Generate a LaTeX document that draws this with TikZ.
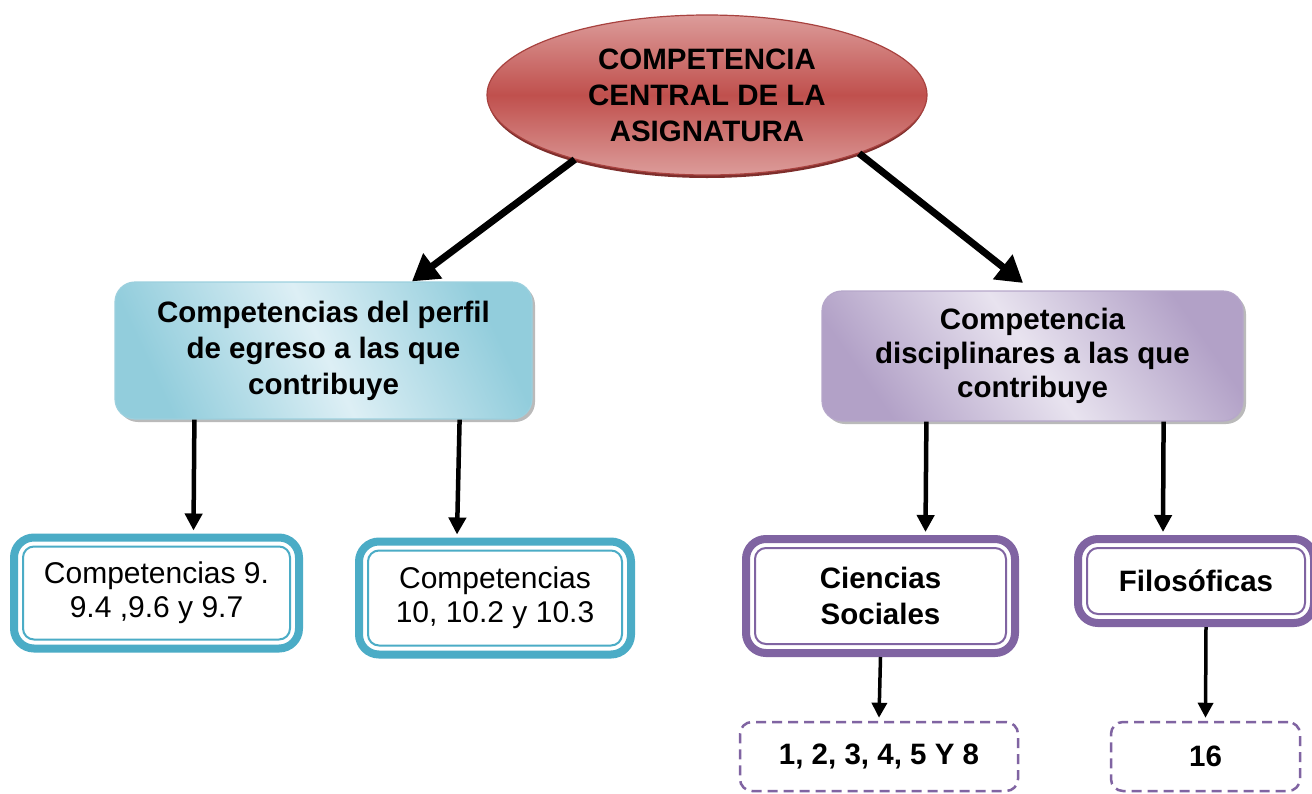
\documentclass[tikz,border=0pt]{standalone}
\usepackage{fontspec}
\setmainfont{Liberation Sans}
\usetikzlibrary{arrows.meta,shapes.geometric,shadows}
\definecolor{redmid}{HTML}{C0504D}
\definecolor{redlight}{HTML}{DC9C9A}
\definecolor{redborder}{HTML}{A8423F}
\definecolor{redshadow}{HTML}{7E2E2C}
\definecolor{bluedark}{HTML}{92CDDC}
\definecolor{bluelight}{HTML}{DDEFF5}
\definecolor{blueborder}{HTML}{9CD0DE}
\definecolor{bluebold}{HTML}{4BACC6}
\definecolor{purpdark}{HTML}{B2A1C7}
\definecolor{purplight}{HTML}{E8E3EF}
\definecolor{purpborder}{HTML}{B6A7CA}
\definecolor{purpbold}{HTML}{8064A2}
\begin{document}
\begin{tikzpicture}[x=1pt,y=-1pt,
  boldtxt/.style={font=\fontsize{29.5}{36}\selectfont\bfseries, align=center},
  regtxt/.style={font=\fontsize{30}{34}\selectfont, align=center},
  gradbox/.style={rectangle, rounded corners=20pt, inner sep=0pt, line width=1.2pt,
    drop shadow={shadow xshift=3pt, shadow yshift=-3pt, fill=black!45, opacity=0.6}},
  dblbox/.style={rectangle, rounded corners=20pt, inner sep=0pt, line width=8pt, fill=white},
  innerline/.style={line width=2pt, rounded corners=11pt},
  dashbox/.style={rectangle, rounded corners=12pt, inner sep=0pt, line width=2.5pt,
    draw=purpbold, dash pattern=on 10pt off 6pt, boldtxt},
  bigarrow/.style={line width=7pt, -{Triangle[length=26pt, width=30pt]}},
  midarrow/.style={line width=4.5pt, -{Triangle[length=17pt, width=17pt]}},
  smallarrow/.style={line width=3.5pt, -{Triangle[length=15pt, width=15pt]}}
]
\useasboundingbox (0,0) rectangle (1312,793);
\fill[white] (0,0) rectangle (1312,793);

% central ellipse
\fill[redshadow] (707,98) ellipse (219pt and 80pt);
\node[ellipse, minimum width=440pt, minimum height=160pt, inner sep=0pt,
  draw=redborder, line width=1.2pt, top color=redlight, bottom color=redlight, middle color=redmid,
  boldtxt] (ell) at (707,95)
  {COMPETENCIA\\CENTRAL DE LA\\ASIGNATURA};

% second level
\node[gradbox, draw=blueborder, minimum width=417pt, minimum height=137pt,
  left color=bluedark, right color=bluedark, middle color=bluelight, shading angle=115,
  boldtxt] (blue) at (323.5,350.5)
  {Competencias del perfil\\de egreso a las que\\contribuye};
\node[gradbox, draw=purpborder, minimum width=421pt, minimum height=130pt,
  left color=purpdark, right color=purpdark, middle color=purplight, shading angle=125,
  boldtxt, font=\fontsize{29.5}{34}\selectfont\bfseries] (purple) at (1032.5,356)
  {Competencia\\disciplinares a las que\\contribuye};

% third level
\node[dblbox, draw=bluebold, minimum width=285pt, minimum height=111pt, regtxt] (b1) at (156.5,593)
  {Competencias 9.\\9.4 ,9.6 y 9.7};
\node[dblbox, draw=bluebold, minimum width=272pt, minimum height=113pt, regtxt] (b2) at (495,598)
  {Competencias\\10, 10.2 y 10.3};
\node[dblbox, draw=purpbold, minimum width=269pt, minimum height=114pt, boldtxt] (p1) at (880.5,596)
  {Ciencias\\Sociales};
\node[dblbox, draw=purpbold, minimum width=236pt, minimum height=84pt, boldtxt] (p2) at (1196,581)
  {Filosóficas};

\draw[innerline, draw=bluebold] ([xshift=13pt,yshift=-13pt]b1.north west) rectangle ([xshift=-13pt,yshift=13pt]b1.south east);
\draw[innerline, draw=bluebold] ([xshift=13pt,yshift=-13pt]b2.north west) rectangle ([xshift=-13pt,yshift=13pt]b2.south east);
\draw[innerline, draw=purpbold] ([xshift=13pt,yshift=-13pt]p1.north west) rectangle ([xshift=-13pt,yshift=13pt]p1.south east);
\draw[innerline, draw=purpbold] ([xshift=13pt,yshift=-13pt]p2.north west) rectangle ([xshift=-13pt,yshift=13pt]p2.south east);

% fourth level
\node[dashbox, minimum width=278pt, minimum height=69pt] (d1) at (879,756.5) {1, 2, 3, 4, 5 Y 8};
\node[dashbox, minimum width=189pt, minimum height=69pt] (d2) at (1205.5,756.5) {16};

% connectors
\draw[bigarrow] (ell.206) -- (blue.38);
\draw[bigarrow, shorten >=12pt] (ell.339) -- (purple.north);
\draw[midarrow] ([xshift=80pt]blue.south west) -- ([xshift=37pt,yshift=3pt]b1.north);
\draw[midarrow] ([xshift=-73pt]blue.south east) -- ([xshift=-38pt,yshift=3pt]b2.north);
\draw[midarrow] ([xshift=105pt]purple.south west) -- ([xshift=45pt,yshift=3pt]p1.north);
\draw[midarrow] ([xshift=-80pt]purple.south east) -- ([xshift=-33pt,yshift=3pt]p2.north);
\draw[smallarrow] (p1.south) -- ([yshift=3pt]d1.north);
\draw[smallarrow] ([xshift=10pt]p2.south) -- ([yshift=3pt]d2.north);
\end{tikzpicture}
\end{document}
